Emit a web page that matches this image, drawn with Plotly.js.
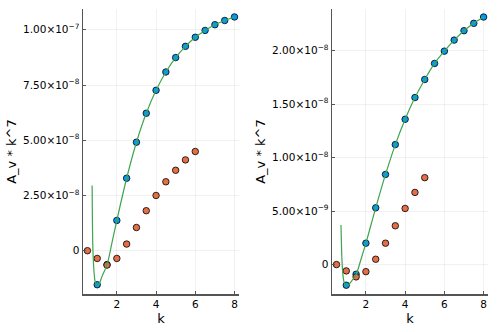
<!DOCTYPE html>
<html>
<head>
<meta charset="utf-8">
<script src="https://cdn.plot.ly/plotly-3.0.1.min.js"></script>
<style>html,body{margin:0;padding:0;background:#fff;}#plot{width:498px;height:332px;}</style>
</head>
<body>
<div id="plot"></div>
<script>
// Left panel
const kBlueL = [1.0, 1.5, 2.0, 2.5, 3.0, 3.5, 4.0, 4.5, 5.0, 5.5, 6.0, 6.5, 7.0, 7.5, 8.0];
const yBlueL = [-1.54e-8, -0.63e-8, 1.37e-8, 3.28e-8, 4.91e-8, 6.22e-8, 7.26e-8, 8.09e-8, 8.74e-8, 9.25e-8, 9.66e-8, 9.97e-8, 1.023e-7, 1.042e-7, 1.058e-7];
const kOrangeL = [0.5, 1.0, 1.5, 2.0, 2.5, 3.0, 3.5, 4.0, 4.5, 5.0, 5.5, 6.0];
const yOrangeL = [0, -0.35e-8, -0.65e-8, -0.35e-8, 0.3e-8, 1.05e-8, 1.81e-8, 2.5e-8, 3.12e-8, 3.64e-8, 4.11e-8, 4.49e-8];
const kGreenL = [0.74, 0.75, 0.77, 0.8, 0.85, 0.9, 1.0, 1.1, 1.25, 1.5, 1.75, 2.0, 2.5, 3.0, 3.5, 4.0, 4.5, 5.0, 5.5, 6.0, 6.5, 7.0, 7.5, 8.0];
const yGreenL = [2.95e-8, 1.9e-8, 0.4e-8, -0.4e-8, -1.1e-8, -1.42e-8, -1.6e-8, -1.5e-8, -1.15e-8, -0.63e-8, 0.35e-8, 1.37e-8, 3.28e-8, 4.91e-8, 6.22e-8, 7.26e-8, 8.09e-8, 8.74e-8, 9.25e-8, 9.66e-8, 9.97e-8, 1.023e-7, 1.042e-7, 1.058e-7];

// Right panel
const kBlueR = [1.0, 1.5, 2.0, 2.5, 3.0, 3.5, 4.0, 4.5, 5.0, 5.5, 6.0, 6.5, 7.0, 7.5, 8.0];
const yBlueR = [-1.93e-9, -0.9e-9, 2.0e-9, 5.31e-9, 8.43e-9, 1.122e-8, 1.359e-8, 1.562e-8, 1.731e-8, 1.881e-8, 1.996e-8, 2.099e-8, 2.187e-8, 2.256e-8, 2.315e-8];
const kOrangeR = [0.5, 1.0, 1.5, 2.0, 2.5, 3.0, 3.5, 4.0, 4.5, 5.0];
const yOrangeR = [0, -0.59e-9, -1.15e-9, -0.66e-9, 0.5e-9, 2.0e-9, 3.63e-9, 5.25e-9, 6.75e-9, 8.13e-9];
const kGreenR = [0.73, 0.75, 0.78, 0.82, 0.88, 0.95, 1.05, 1.2, 1.5, 1.75, 2.0, 2.5, 3.0, 3.5, 4.0, 4.5, 5.0, 5.5, 6.0, 6.5, 7.0, 7.5, 8.0];
const yGreenR = [3.7e-9, 2.1e-9, 0.4e-9, -0.8e-9, -1.6e-9, -1.95e-9, -2.0e-9, -1.7e-9, -0.9e-9, 0.5e-9, 2.0e-9, 5.31e-9, 8.43e-9, 1.122e-8, 1.359e-8, 1.562e-8, 1.731e-8, 1.881e-8, 1.996e-8, 2.099e-8, 2.187e-8, 2.256e-8, 2.315e-8];

const xTickVals = [2, 4, 6, 8];
const yTickValsL = [0, 2.5e-8, 5e-8, 7.5e-8, 1e-7];
const yTickTextL = ["0", "2.50×10<sup>−8</sup>", "5.00×10<sup>−8</sup>", "7.50×10<sup>−8</sup>", "1.00×10<sup>−7</sup>"];
const yTickValsR = [0, 5e-9, 1e-8, 1.5e-8, 2e-8];
const yTickTextR = ["0", "5.00×10<sup>−9</sup>", "1.00×10<sup>−8</sup>", "1.50×10<sup>−8</sup>", "2.00×10<sup>−8</sup>"];

const BLUE = '#009AFA', ORANGE = '#E36F47', GREEN = '#3EA44E';
const mk = c => ({color: c, size: 6.5, line: {color: '#000', width: 0.8}});

const traces = [
  {x: kBlueL, y: yBlueL, mode: 'markers', marker: mk(BLUE), xaxis: 'x', yaxis: 'y'},
  {x: kOrangeL, y: yOrangeL, mode: 'markers', marker: mk(ORANGE), xaxis: 'x', yaxis: 'y'},
  {x: kGreenL, y: yGreenL, mode: 'lines', line: {color: GREEN, width: 1.2, shape: 'spline'}, xaxis: 'x', yaxis: 'y'},
  {x: kBlueR, y: yBlueR, mode: 'markers', marker: mk(BLUE), xaxis: 'x2', yaxis: 'y2'},
  {x: kOrangeR, y: yOrangeR, mode: 'markers', marker: mk(ORANGE), xaxis: 'x2', yaxis: 'y2'},
  {x: kGreenR, y: yGreenR, mode: 'lines', line: {color: GREEN, width: 1.2, shape: 'spline'}, xaxis: 'x2', yaxis: 'y2'}
];

const font = {family: 'DejaVu Sans, sans-serif', color: '#000'};
const axBase = {
  showline: true, linecolor: '#555', linewidth: 1.5, mirror: false,
  showgrid: true, gridcolor: 'rgba(0,0,0,0.09)', gridwidth: 0.6,
  zeroline: false, ticks: 'inside', ticklen: 3, tickcolor: '#555',
  tickfont: {family: font.family, size: 10.5, color: '#000'}
};
const xr = [0.275, 8.225];
const titleFont = {family: font.family, size: 13, color: '#000'};
const layout = {
  width: 498, height: 332,
  margin: {l: 83, r: 10, t: 9, b: 38},
  paper_bgcolor: '#fff', plot_bgcolor: '#fff',
  showlegend: false,
  font: font,
  xaxis: Object.assign({}, axBase, {domain: [0, 0.385], range: xr, tickvals: xTickVals, anchor: 'y',
    title: {text: 'k', font: titleFont, standoff: 5}}),
  yaxis: Object.assign({}, axBase, {range: [-1.96e-8, 1.094e-7], tickvals: yTickValsL, ticktext: yTickTextL, anchor: 'x',
    title: {text: 'A_v * k^7', font: titleFont, standoff: 3}}),
  xaxis2: Object.assign({}, axBase, {domain: [0.615, 1], range: xr, tickvals: xTickVals, anchor: 'y2',
    title: {text: 'k', font: titleFont, standoff: 5}}),
  yaxis2: Object.assign({}, axBase, {range: [-2.75e-9, 2.39e-8], tickvals: yTickValsR, ticktext: yTickTextR, anchor: 'x2',
    title: {text: 'A_v * k^7', font: titleFont, standoff: 3}})
};
Plotly.newPlot('plot', traces, layout, {staticPlot: true, displayModeBar: false});
</script>
</body>
</html>
